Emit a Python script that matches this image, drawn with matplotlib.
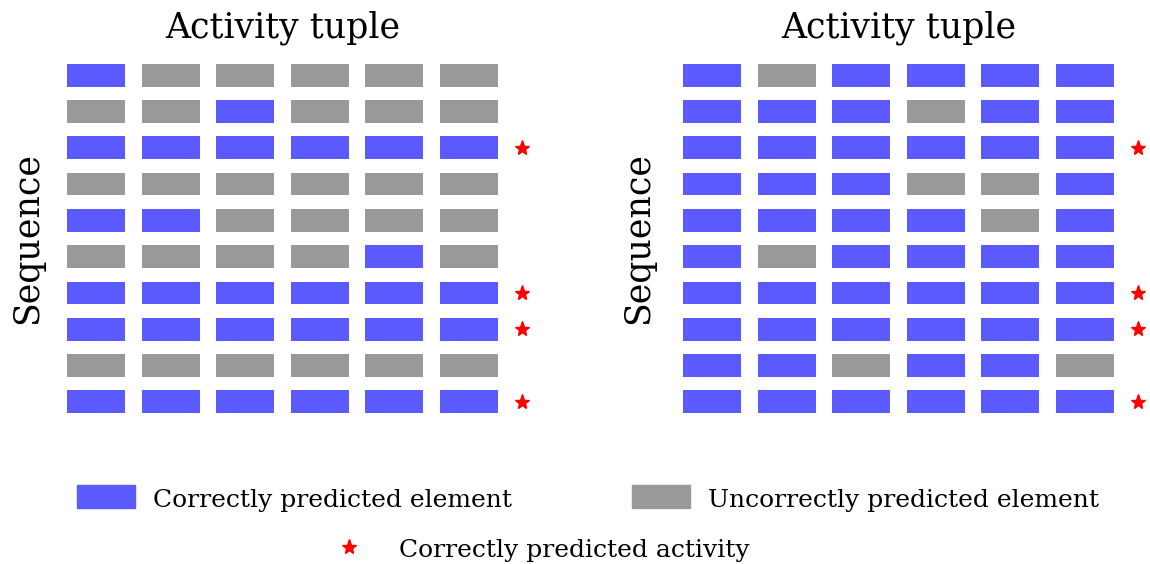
import numpy as np
import matplotlib
matplotlib.use('Agg')
import matplotlib.pyplot as plt
from matplotlib.patches import Rectangle

plt.rcParams['font.family'] = 'DejaVu Serif'

# 1 = correctly predicted element, 0 = uncorrectly predicted element
left_grid = [
    [1, 0, 0, 0, 0, 0],
    [0, 0, 1, 0, 0, 0],
    [1, 1, 1, 1, 1, 1],
    [0, 0, 0, 0, 0, 0],
    [1, 1, 0, 0, 0, 0],
    [0, 0, 0, 0, 1, 0],
    [1, 1, 1, 1, 1, 1],
    [1, 1, 1, 1, 1, 1],
    [0, 0, 0, 0, 0, 0],
    [1, 1, 1, 1, 1, 1],
]
right_grid = [
    [1, 0, 1, 1, 1, 1],
    [1, 1, 1, 0, 1, 1],
    [1, 1, 1, 1, 1, 1],
    [1, 1, 1, 0, 0, 1],
    [1, 1, 1, 1, 0, 1],
    [1, 0, 1, 1, 1, 1],
    [1, 1, 1, 1, 1, 1],
    [1, 1, 1, 1, 1, 1],
    [1, 1, 0, 1, 1, 0],
    [1, 1, 1, 1, 1, 1],
]
panel_title = 'Activity tuple'
row_label = 'Sequence'
legend_labels = ['Correctly predicted element', 'Uncorrectly predicted element',
                 'Correctly predicted activity']

BLUE = '#5a5aff'
GRAY = '#999999'
W, H = 1150, 564

fig = plt.figure(figsize=(11.5, 5.64), dpi=100)


def draw_panel(grid, left_px):
    grid = np.array(grid)
    nrows, ncols = grid.shape
    col_w, row_h = 74.5, 36.3
    ax = fig.add_axes([left_px / W, (H - 420) / H, 6.5 * col_w / W, 10 * row_h / H])
    for r in range(nrows):
        colors = [BLUE if v else GRAY for v in grid[r]]
        ax.bar(np.arange(ncols), 0.63, width=0.78, bottom=r - 0.315, color=colors)
    # whole row right -> star
    hit = [r for r in range(nrows) if grid[r].all()]
    ax.plot([5.72] * len(hit), hit, linestyle='none', marker='*', color='red',
            markersize=11)
    ax.set_xlim(-0.5, 6.0)
    ax.set_ylim(nrows - 0.5, -0.5)
    ax.axis('off')
    return ax


draw_panel(left_grid, 59)
draw_panel(right_grid, 675)

for cx in (283, 899):
    fig.text(cx / W, 1 - 28 / H, panel_title, ha='center', va='center', fontsize=25)
for cx in (27, 638):
    fig.text(cx / W, 1 - 238 / H, row_label, ha='center', va='center',
             rotation=90, fontsize=25)

# legend
for x0, col, lab in ((77, BLUE, legend_labels[0]), (632, GRAY, legend_labels[1])):
    fig.add_artist(Rectangle((x0 / W, 1 - 508 / H), 58 / W, 23 / H,
                             transform=fig.transFigure, color=col))
    fig.text((x0 + 76) / W, 1 - 500 / H, lab, ha='left', va='center', fontsize=18)
fig.add_artist(plt.Line2D([349 / W], [1 - 547 / H], marker='*', color='red',
                          markersize=11, linestyle='none', transform=fig.transFigure))
fig.text(399 / W, 1 - 550 / H, legend_labels[2], ha='left', va='center', fontsize=18)

fig.savefig('out.png', dpi=100)
